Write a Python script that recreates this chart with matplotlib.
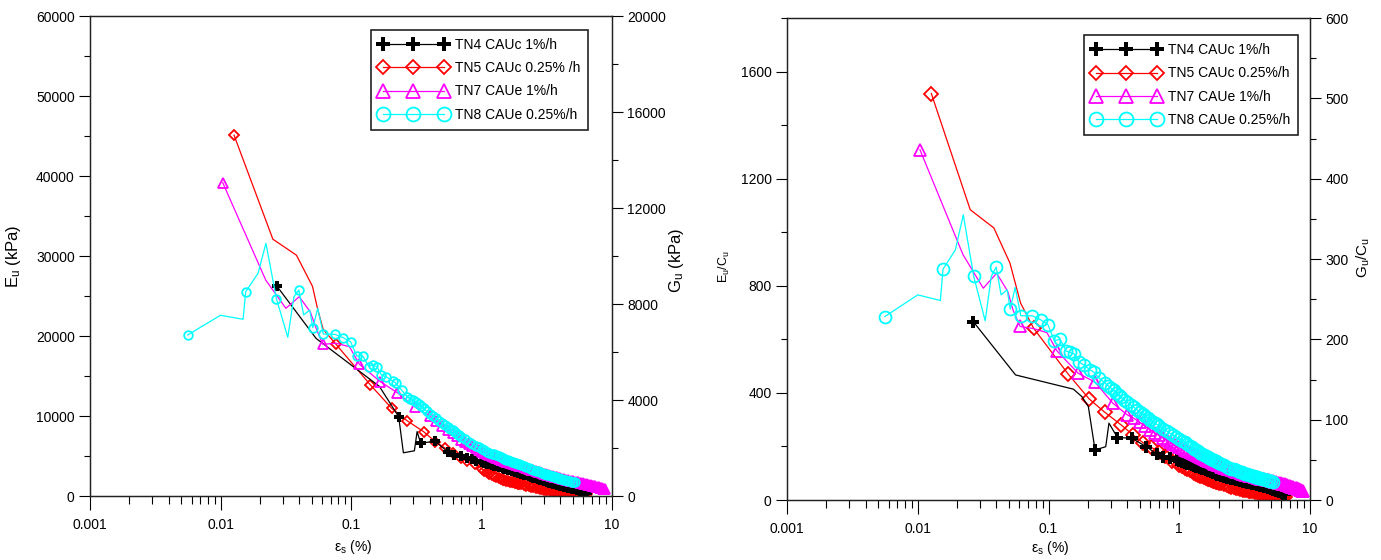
import matplotlib
matplotlib.use("Agg")
import numpy as np
from matplotlib import pyplot as plt
from matplotlib.lines import Line2D
from matplotlib.ticker import FuncFormatter, LogLocator, MultipleLocator, NullFormatter

plt.rcParams["font.family"] = ["Liberation Sans", "DejaVu Sans"]
plt.rcParams["mathtext.fontset"] = "custom"
plt.rcParams["mathtext.rm"] = "Liberation Sans"
plt.rcParams["mathtext.it"] = "Liberation Sans:italic"

# ---- data (strain in %, Eu in kPa, Eu/Cu) ----
# strain values of the dense end parts of the curves
TAIL_A = [1.0, 1.05, 1.1, 1.15, 1.2, 1.25, 1.3, 1.35, 1.4, 1.45, 1.5,
          1.55, 1.6, 1.65, 1.7, 1.75, 1.8, 1.85, 1.9, 1.95, 2.0]
TAIL_B = [2.1, 2.2, 2.3, 2.4, 2.5, 2.6, 2.7, 2.8, 2.9, 3.0,
          3.1, 3.2, 3.3, 3.4, 3.5, 3.6, 3.7, 3.8, 3.9, 4.0]
TAIL_C = [4.15, 4.3, 4.45, 4.6, 4.75, 4.9, 5.05, 5.2, 5.35, 5.5, 5.65, 5.8, 5.95, 6.1, 6.25, 6.4]
TAIL_D = [6.55, 6.7, 6.85, 7.0, 7.15, 7.3, 7.45, 7.6, 7.75, 7.9, 8.05, 8.2, 8.35, 8.5, 8.65, 8.8]
MID_A = [0.27, 0.285, 0.30, 0.315, 0.33, 0.345, 0.36, 0.38, 0.40, 0.425, 0.45, 0.475, 0.50,
         0.525, 0.55, 0.575, 0.60, 0.625, 0.65, 0.675, 0.70, 0.75, 0.80, 0.85, 0.90, 0.95]

# TN4 CAUc 1%/h
tn4_x_left = [0.027, 0.054, 0.165, 0.203, 0.232, 0.252, 0.306, 0.321, 0.342, 0.44, 0.55,
              0.62, 0.70, 0.78, 0.85, 0.91] + TAIL_A + TAIL_B + TAIL_C
tn4_eu = [26250, 19700, 13700, 11400, 9900, 5400, 5650, 8050, 6600, 6850, 5550,
          5130, 4950, 4750, 4580, 4430,
          4250, 4150, 4050, 3965, 3880, 3800, 3720, 3645, 3570, 3495, 3420,
          3350, 3280, 3215, 3150, 3085, 3020, 2960, 2900, 2845, 2790,
          2685, 2580, 2485, 2390, 2300, 2210, 2125, 2040, 1965, 1890,
          1820, 1750, 1685, 1620, 1560, 1500, 1445, 1390, 1340, 1290,
          1225, 1160, 1100, 1040, 985, 930, 880, 830, 780, 730, 675, 620, 560, 500, 440, 380]
tn4_x_right = [0.0266, 0.056, 0.155, 0.18, 0.2017, 0.227, 0.274, 0.29, 0.337, 0.433, 0.56,
               0.673, 0.755, 0.85, 0.955] + TAIL_A + TAIL_B + TAIL_C
tn4_eucu = [666, 467, 414, 386, 349, 187, 199, 287, 233, 231, 199, 172, 162, 156, 150,
            145, 143, 140, 136, 133, 130, 128, 125, 122, 119, 117,
            114, 112, 109, 107, 104, 102, 99, 97, 95, 93,
            90, 87, 84, 82, 79, 77, 75, 74, 72, 70,
            68, 67, 65, 64, 62, 61, 59, 58, 56, 55,
            53, 51, 49, 47, 45, 43, 41, 39, 37, 35, 33, 31, 29, 27, 24, 22]

# TN5 CAUc 0.25%/h
tn5_x = [0.0127, 0.0252, 0.0382, 0.0507, 0.0557, 0.0612, 0.0768, 0.141, 0.205, 0.269, 0.36,
         0.443, 0.528, 0.61, 0.694, 0.78, 0.885] + TAIL_A + TAIL_B + TAIL_C
tn5_eu = [45100, 32100, 30100, 26200, 23250, 20840, 18960, 13875, 10960, 9410, 8040,
          6790, 5960, 5330, 4790, 4375, 4000,
          3400, 3170, 2950, 2770, 2600, 2470, 2350, 2250, 2150, 2060, 1980,
          1910, 1850, 1790, 1740, 1690, 1640, 1590, 1550, 1500, 1450,
          1360, 1280, 1200, 1130, 1070, 1010, 950, 900, 850, 800,
          760, 720, 690, 660, 635, 610, 585, 560, 540, 520,
          495, 470, 445, 420, 400, 380, 360, 340, 325, 310, 295, 280, 270, 260, 250, 240]
tn5_eucu = [1518, 1084, 1016, 885, 810, 735, 642, 471, 377, 328, 280,
            243, 214, 197, 181, 164, 147,
            132, 126, 121, 116, 112, 107, 102, 98, 94, 91, 88,
            85, 82, 79, 77, 74, 72, 70, 68, 66, 65,
            62, 59, 56, 53, 50, 48, 46, 44, 42, 40,
            38, 37, 36, 35, 34, 33, 32, 31, 30, 29,
            28, 27, 26, 25, 24, 22, 22, 21, 20, 19, 17, 16, 15, 13, 12, 11]

# TN7 CAUe 1%/h
tn7_x = [0.0104, 0.0222, 0.0317, 0.0401, 0.0488, 0.0535, 0.0607, 0.077, 0.0973, 0.116, 0.168,
         0.227, 0.31, 0.40, 0.45, 0.50, 0.55, 0.60, 0.65, 0.70, 0.75, 0.80, 0.85, 0.90, 0.95] \
    + TAIL_A + TAIL_B + TAIL_C + TAIL_D
tn7_eu = [39170, 27000, 23460, 24910, 23000, 21160, 18960, 19090, 18660, 16460, 14290,
          12900, 11100, 10000, 9350, 8800, 8300, 7850, 7450, 7050, 6750, 6450, 6200, 5950, 5750,
          5550, 5370, 5200, 5070, 4950, 4850, 4750, 4650, 4550, 4465, 4380,
          4300, 4220, 4150, 4080, 4015, 3950, 3890, 3830, 3775, 3720,
          3610, 3500, 3400, 3300, 3205, 3110, 3030, 2950, 2875, 2800,
          2730, 2660, 2600, 2540, 2480, 2420, 2370, 2320, 2270, 2220,
          2155, 2090, 2030, 1970, 1920, 1870, 1825, 1780, 1735, 1690, 1650, 1610, 1570, 1530, 1490, 1450,
          1410, 1370, 1335, 1300, 1265, 1230, 1195, 1160, 1120, 1080, 1040, 1000, 960, 920, 885, 850]
tn7_eucu = [1308, 916, 791, 847, 779, 710, 648, 640, 625, 557, 474,
            440, 362, 318, 305, 290, 275, 262, 251, 241, 232, 224, 217, 210, 204,
            198, 193, 188, 183, 179, 175, 171, 167, 163, 159, 156,
            153, 150, 147, 144, 141, 139, 136, 134, 131, 129,
            125, 121, 117, 114, 111, 108, 105, 103, 100, 98,
            96, 94, 92, 91, 89, 88, 86, 85, 83, 82,
            80, 79, 77, 76, 74, 73, 71, 70, 68, 67, 65, 64, 62, 61, 59, 58,
            56, 55, 53, 52, 50, 49, 47, 46, 44, 43, 41, 40, 38, 36, 34, 32]

# TN8 CAUe 0.25%/h
tn8_x = [0.0056, 0.0100, 0.0149, 0.0156, 0.0194, 0.0223, 0.0268, 0.0328, 0.0365, 0.0398,
         0.0434, 0.0483, 0.0510, 0.0556, 0.0614, 0.0752, 0.0871, 0.0992, 0.1107, 0.1227,
         0.137, 0.1466, 0.158, 0.171, 0.1855, 0.208, 0.221, 0.244] + MID_A + TAIL_A + TAIL_B + TAIL_C[:8]
tn8_eu = [20125, 22590, 22090, 25540, 27840, 31590, 24670, 19840, 24900, 25750,
          22630, 23250, 21040, 23460, 20250, 20210, 19790, 19290, 17500, 17500,
          16170, 16380, 16170, 15125, 14910, 14410, 14090, 13250,
          12400, 12170, 11950, 11720, 11500, 11220, 10950, 10620, 10300, 10000, 9700, 9420, 9150,
          8900, 8650, 8420, 8200, 8000, 7800, 7570, 7350, 7070, 6800, 6550, 6300, 6100,
          5900, 5720, 5550, 5420, 5300, 5200, 5100, 4970, 4850, 4750, 4650,
          4560, 4470, 4385, 4300, 4225, 4150, 4080, 4010, 3945, 3880,
          3750, 3620, 3500, 3380, 3270, 3160, 3065, 2970, 2885, 2800,
          2725, 2650, 2580, 2510, 2450, 2390, 2335, 2280, 2225, 2170,
          2100, 2030, 1965, 1900, 1845, 1790, 1740, 1690]
tn8_eucu = [685, 766, 745, 862, 934, 1065, 835, 669, 835, 870,
            766, 785, 713, 794, 688, 688, 673, 654, 595, 600,
            556, 551, 545, 515, 505, 486, 478, 455,
            437, 427, 418, 409, 400, 391, 383, 374, 365, 355, 346, 337, 328,
            320, 313, 306, 300, 293, 287, 282, 277, 267, 258, 249, 241, 234,
            227, 221, 215, 209, 203, 197, 192, 187, 182, 177, 173,
            169, 165, 161, 158, 154, 151, 148, 145, 142, 139,
            134, 129, 125, 121, 117, 114, 111, 108, 105, 103,
            100, 98, 96, 94, 92, 90, 88, 87, 85, 84,
            82, 80, 78, 76, 74, 72, 70, 68]

LABELS_LEFT = ["TN4 CAUc 1%/h", "TN5 CAUc 0.25% /h", "TN7 CAUe 1%/h", "TN8 CAUe 0.25%/h"]
LABELS_RIGHT = ["TN4 CAUc 1%/h", "TN5 CAUc 0.25%/h", "TN7 CAUe 1%/h", "TN8 CAUe 0.25%/h"]

# ---- styles ----
STYLE = {
    "TN4": dict(color="black", marker="P", mfc="black", mec="black", mew=0.0),
    "TN5": dict(color="red", marker="D", mfc="none", mec="red", mew=1.3),
    "TN7": dict(color="magenta", marker="^", mfc="none", mec="magenta", mew=1.3),
    "TN8": dict(color="cyan", marker="o", mfc="none", mec="cyan", mew=1.3),
}
# vertices drawn without a symbol (line only)
PLAIN = {
    "TN4L": [1, 2, 3, 5, 6, 7],
    "TN4R": [1, 2, 3, 4, 6, 7],
    "TN5": [1, 2, 3, 4, 5],
    "TN7": [1, 2, 3, 4, 5, 7, 8],
    "TN8": [1, 2, 4, 5, 7, 8, 10, 11, 13],
}
MS_LEFT = {"TN4": 7.5, "TN5": 4.6, "TN7": 6.5, "TN8": 6.2}
MS_RIGHT = {"TN4": 9.0, "TN5": 6.8, "TN7": 9.0, "TN8": 8.6}


def marks(n, plain):
    return [i for i in range(n) if i not in plain]


def draw(ax, key, x, y, plain, ms):
    st = STYLE[key]
    ax.plot(x, y, color=st["color"], lw=0.9, marker=st["marker"], ms=ms[key],
            mfc=st["mfc"], mec=st["mec"], mew=st["mew"], markevery=marks(len(x), plain))


def style_axes(ax, ax2):
    ax.set_xscale("log")
    ax.set_xlim(0.001, 10)
    ax.xaxis.set_major_locator(LogLocator(base=10, numticks=10))
    ax.xaxis.set_minor_locator(LogLocator(base=10, subs=np.arange(2, 10), numticks=20))
    ax.xaxis.set_major_formatter(FuncFormatter(lambda v, p: f"{v:g}"))
    ax.xaxis.set_minor_formatter(NullFormatter())
    ax.tick_params(axis="x", which="major", direction="out", length=10, width=0.8, pad=6, labelsize=10)
    ax.tick_params(axis="x", which="minor", direction="out", length=6, width=0.8)
    ax.tick_params(axis="y", which="major", direction="out", length=8, width=0.8, pad=3, labelsize=10)
    ax.tick_params(axis="y", which="minor", direction="out", length=4, width=0.8)
    ax2.tick_params(axis="y", which="major", direction="out", length=8, width=0.8, pad=3, labelsize=10)
    ax2.tick_params(axis="y", which="minor", direction="out", length=4, width=0.8)
    for a in (ax, ax2):
        for s in a.spines.values():
            s.set_linewidth(0.9)
            s.set_color("#222222")


def legend(ax, labels, anchor):
    handles = []
    for key, ms in zip(["TN4", "TN5", "TN7", "TN8"], [10, 7, 10, 10]):
        st = STYLE[key]
        handles.append(Line2D([], [], color=st["color"], lw=0.9, marker=st["marker"], ms=ms,
                              mfc=st["mfc"], mec=st["mec"], mew=st["mew"]))
    leg = ax.legend(handles, labels, loc="upper right", bbox_to_anchor=anchor, borderaxespad=0,
                    numpoints=3, handlelength=5, handletextpad=0.5, borderpad=0.55,
                    labelspacing=0.68, fontsize=10, fancybox=False, framealpha=1,
                    edgecolor="#222222")
    leg.get_frame().set_linewidth(1.2)
    leg.set_zorder(10)


fig = plt.figure(figsize=(13.81, 5.6), dpi=100)

# ---- left panel: Eu / Gu ----
axL = fig.add_axes([90 / 1381, 1 - 496 / 560, 522 / 1381, 480 / 560])
axL2 = axL.twinx()
draw(axL, "TN5", tn5_x, tn5_eu, PLAIN["TN5"], MS_LEFT)
draw(axL, "TN4", tn4_x_left, tn4_eu, PLAIN["TN4L"], MS_LEFT)
draw(axL, "TN7", tn7_x, tn7_eu, PLAIN["TN7"], MS_LEFT)
draw(axL, "TN8", tn8_x, tn8_eu, PLAIN["TN8"], MS_LEFT)
axL.set_ylim(0, 60000)
axL.yaxis.set_major_locator(MultipleLocator(10000))
axL.yaxis.set_minor_locator(MultipleLocator(5000))
axL2.set_ylim(0, 20000)
axL2.yaxis.set_major_locator(MultipleLocator(4000))
axL2.yaxis.set_minor_locator(MultipleLocator(2000))
style_axes(axL, axL2)
axL.set_xlabel(r"ε$_{\rm s}$ (%)", fontsize=10)
axL.xaxis.set_label_coords(0.504, -0.088)
axL.set_ylabel(r"E$_{\rm u}$ (kPa)", fontsize=12)
axL.yaxis.set_label_coords(-0.128, 0.5)
axL2.set_ylabel(r"G$_{\rm u}$ (kPa)", fontsize=12)
axL2.yaxis.set_label_coords(1.105, 0.49)
legend(axL2, LABELS_LEFT, (0.954, 0.971))

# ---- right panel: Eu/Cu / Gu/Cu ----
axR = fig.add_axes([787 / 1381, 1 - 500 / 560, 523 / 1381, 482 / 560])
axR2 = axR.twinx()
draw(axR, "TN5", tn5_x, tn5_eucu, PLAIN["TN5"], MS_RIGHT)
draw(axR, "TN4", tn4_x_right, tn4_eucu, PLAIN["TN4R"], MS_RIGHT)
draw(axR, "TN7", tn7_x, tn7_eucu, PLAIN["TN7"], MS_RIGHT)
draw(axR, "TN8", tn8_x, tn8_eucu, PLAIN["TN8"], MS_RIGHT)
axR.set_ylim(0, 1800)
axR.yaxis.set_major_locator(MultipleLocator(400))
axR.yaxis.set_minor_locator(MultipleLocator(200))
axR2.set_ylim(0, 600)
axR2.yaxis.set_major_locator(MultipleLocator(100))
axR2.yaxis.set_minor_locator(MultipleLocator(50))
style_axes(axR, axR2)
axR.set_xlabel(r"ε$_{\rm s}$ (%)", fontsize=10)
axR.xaxis.set_label_coords(0.503, -0.080)
axR.set_ylabel(r"E$_{\rm u}$/C$_{\rm u}$", fontsize=9)
axR.yaxis.set_label_coords(-0.105, 0.485)
axR2.set_ylabel(r"G$_{\rm u}$/C$_{\rm u}$", fontsize=11)
axR2.yaxis.set_label_coords(1.086, 0.504)
legend(axR2, LABELS_RIGHT, (0.977, 0.964))

fig.savefig("out.png", dpi=100)
